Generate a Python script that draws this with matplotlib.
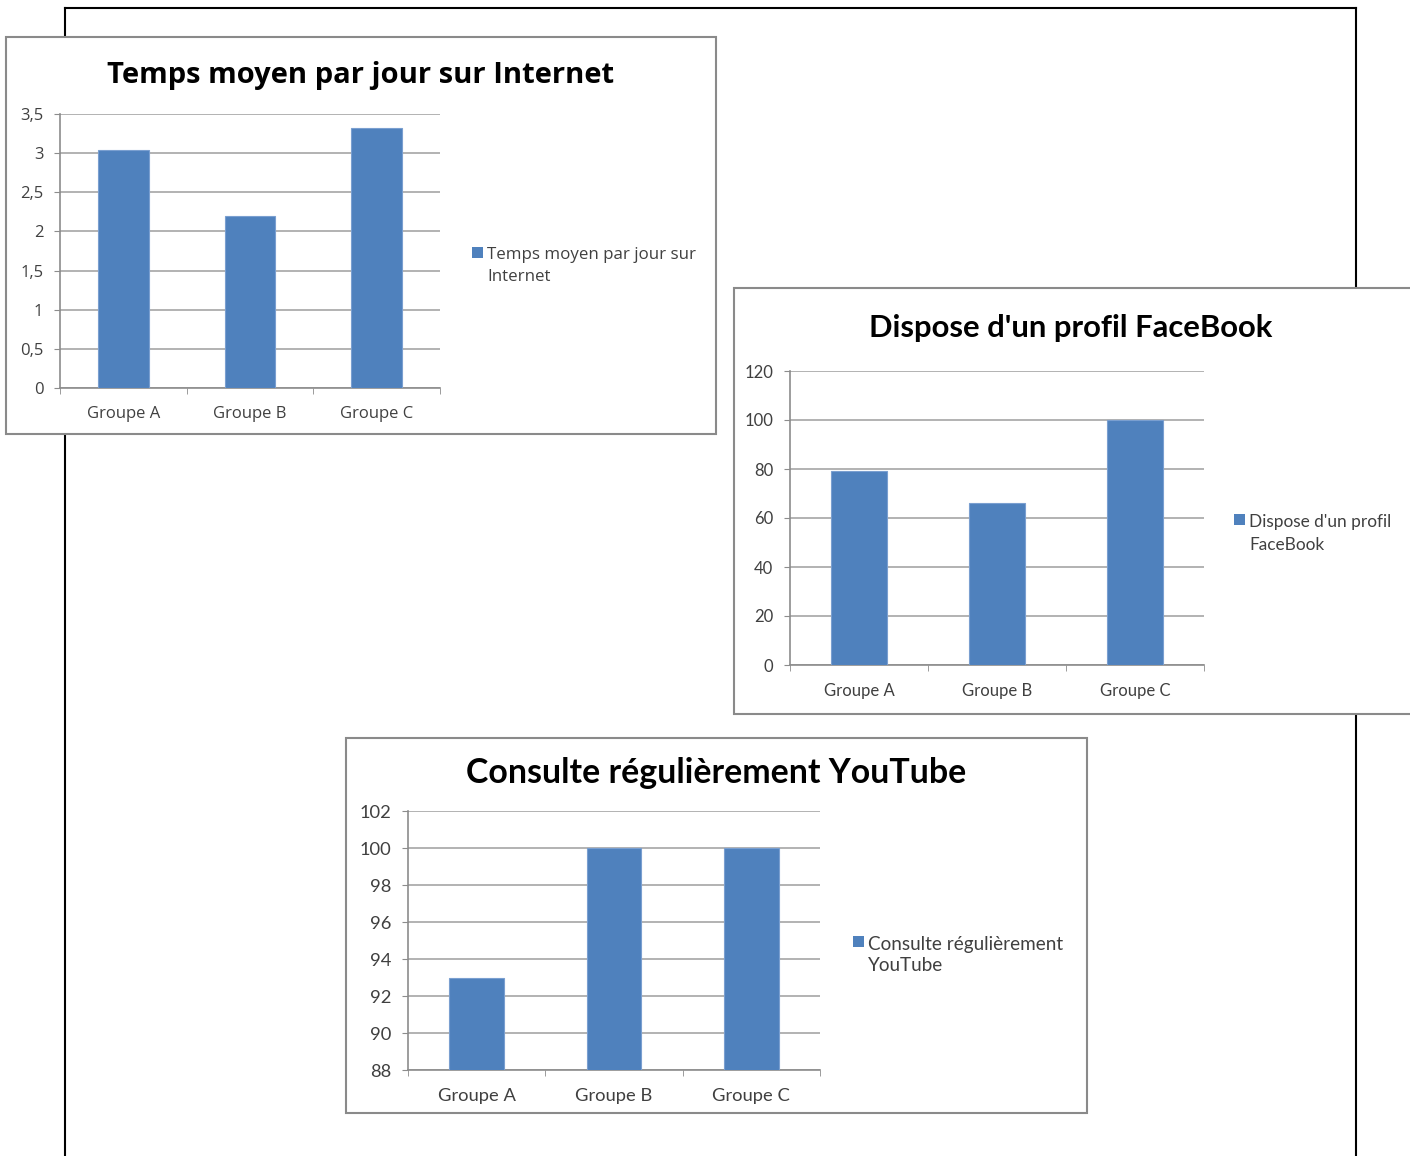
import matplotlib
matplotlib.use("Agg")
import matplotlib.pyplot as plt
from matplotlib.patches import Rectangle
from matplotlib.lines import Line2D

W, H = 1410, 1156

categories = ["Groupe A", "Groupe B", "Groupe C"]

title1 = "Temps moyen par jour sur Internet"
legend1 = "Temps moyen par jour sur\nInternet"
values1 = [3.04, 2.2, 3.32]
yticks1 = [0, 0.5, 1, 1.5, 2, 2.5, 3, 3.5]
yticklabels1 = ["0", "0,5", "1", "1,5", "2", "2,5", "3", "3,5"]

title2 = "Dispose d'un profil FaceBook"
legend2 = "Dispose d'un profil\nFaceBook"
values2 = [79, 66, 100]
yticks2 = [0, 20, 40, 60, 80, 100, 120]
yticklabels2 = ["0", "20", "40", "60", "80", "100", "120"]

title3 = "Consulte régulièrement YouTube"
legend3 = "Consulte régulièrement\nYouTube"
values3 = [93, 100, 100]
yticks3 = [88, 90, 92, 94, 96, 98, 100, 102]
yticklabels3 = ["88", "90", "92", "94", "96", "98", "100", "102"]

BAR = "#4F81BD"
GRID = "#a6a6a6"
AXC = "#8c8c8c"
TXT = "#404040"

fig = plt.figure(figsize=(W / 100, H / 100), dpi=100)
fig.patch.set_facecolor("white")


def fx(x):
    return x / W


def fy(y):
    return 1 - y / H


# page border
for xs, ys in [((65, 65), (8, H)), ((65, 1356), (8, 8)), ((1356, 1356), (8, H))]:
    fig.add_artist(Line2D([fx(xs[0]), fx(xs[1])], [fy(ys[0]), fy(ys[1])],
                          color="black", lw=1.5, zorder=0))


def panel(x0, y0, x1, y1):
    fig.add_artist(Rectangle((fx(x0), fy(y1)), fx(x1) - fx(x0), fy(y0) - fy(y1),
                             facecolor="white", edgecolor="#8a8a8a", lw=1.5, zorder=1))


def chart(box, ax_box, title, title_xy, vals, yt, ytl, leg, leg_xy, fam,
          tsize, lsize, gsize, linesp):
    panel(*box)
    x0, y0, x1, y1 = ax_box
    ax = fig.add_axes([fx(x0), fy(y1), fx(x1) - fx(x0), fy(y0) - fy(y1)])
    ax.set_zorder(2)
    ax.patch.set_alpha(0)
    ax.bar(range(len(categories)), vals, width=0.4, color=BAR,
           edgecolor="#7a9fd0", lw=0.8, zorder=3)
    ax.set_xlim(-0.5, len(categories) - 0.5)
    ax.set_ylim(yt[0], yt[-1])
    ax.set_yticks(yt)
    ax.set_yticklabels(ytl, fontsize=lsize, color=TXT, family=fam)
    ax.set_xticks(range(len(categories)))
    ax.set_xticklabels(categories, fontsize=lsize, color=TXT, family=fam)
    ax.set_xticks([i - 0.5 for i in range(len(categories) + 1)], minor=True)
    ax.tick_params(axis="x", which="major", length=0, pad=13)
    ax.tick_params(axis="x", which="minor", length=4, color=AXC, direction="out")
    ax.tick_params(axis="y", length=4, color=AXC, pad=8)
    ax.yaxis.grid(True, color=GRID, lw=1.2, zorder=0)
    ax.set_axisbelow(True)
    for s in ["top", "right"]:
        ax.spines[s].set_visible(False)
    for s in ["left", "bottom"]:
        ax.spines[s].set_color(AXC)
        ax.spines[s].set_linewidth(1.2)
    fig.text(fx(title_xy[0]), fy(title_xy[1]), title, ha="center", va="center",
             fontsize=tsize, fontweight="bold", family=fam, color="black", zorder=3)
    # legend: square key + label
    lx, ly = leg_xy
    fig.add_artist(Rectangle((fx(lx), fy(ly + 5)), fx(11), 11 / H,
                             facecolor=BAR, edgecolor="none", zorder=3))
    fig.text(fx(lx + 15), fy(ly - 6), leg, ha="left", va="top",
             fontsize=gsize, family=fam, color=TXT, linespacing=linesp, zorder=3)
    return ax


fam1 = ["Open Sans", "DejaVu Sans"]
fam2 = ["Lato", "DejaVu Sans"]

chart((6, 37, 716, 434), (60, 114, 440, 388), title1, (361, 75), values1,
      yticks1, yticklabels1, legend1, (472, 253), fam1, 21, 12, 12.2, 1.5)
chart((734, 288, 1420, 714), (790, 371, 1204, 665), title2, (1071, 328), values2,
      yticks2, yticklabels2, legend2, (1234, 520), fam2, 22.3, 12, 12.4, 1.55)
chart((346, 738, 1087, 1113), (408, 811, 820, 1070), title3, (716, 773), values3,
      yticks3, yticklabels3, legend3, (853, 942), fam2, 24.4, 13.2, 13.6, 1.3)

fig.savefig("out.png", dpi=100, facecolor="white")
